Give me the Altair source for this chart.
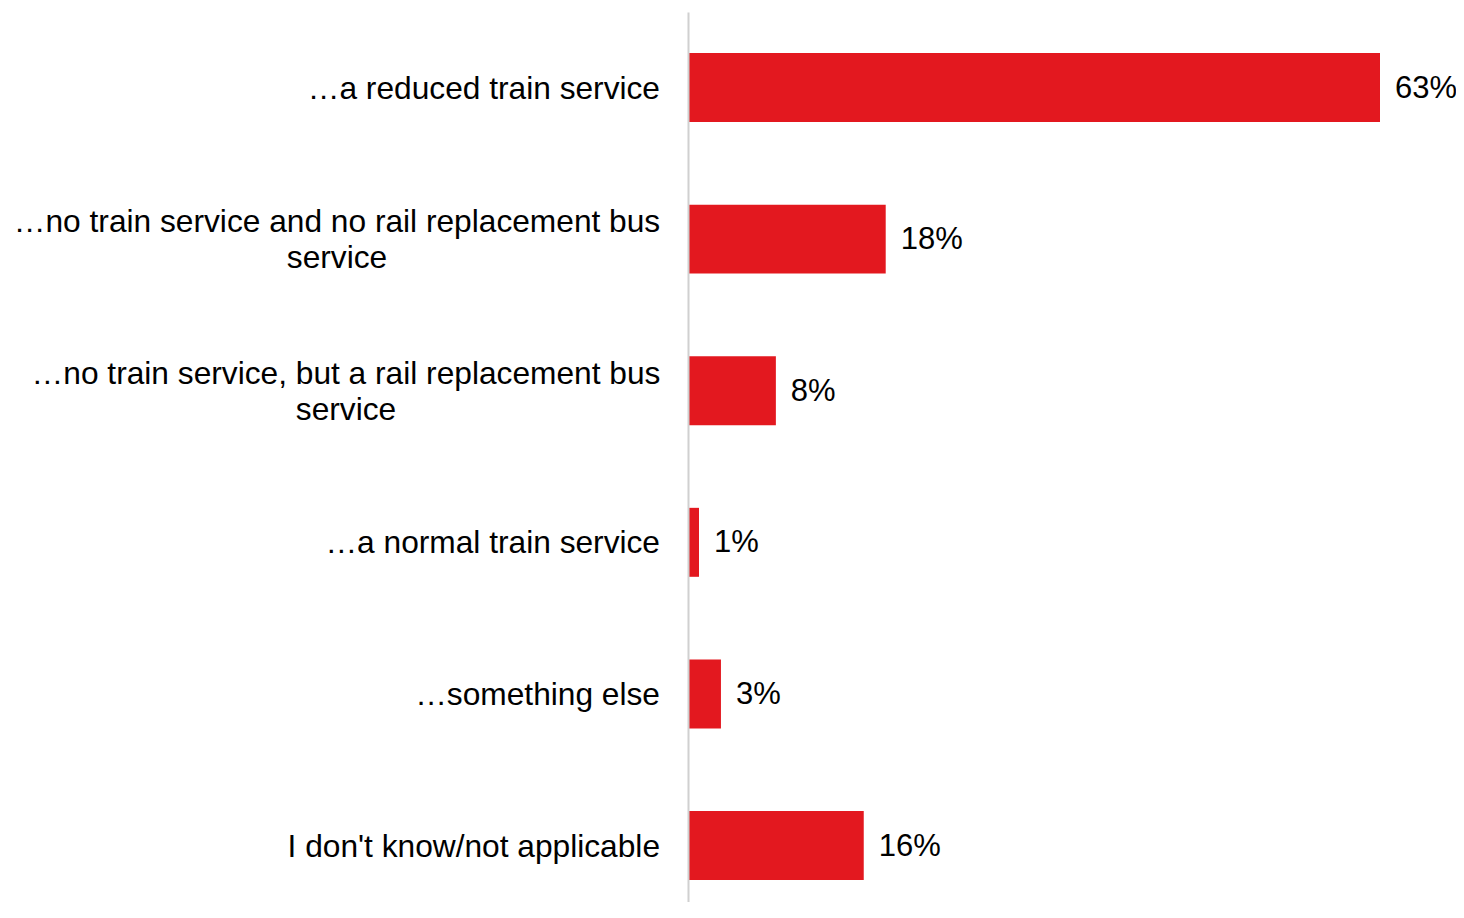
import altair as alt
import pandas as pd

categories = [
    "…a reduced train service",
    "…no train service and no rail replacement bus\nservice",
    "…no train service, but a rail replacement bus\nservice",
    "…a normal train service",
    "…something else",
    "I don't know/not applicable",
]
values = [63, 18, 8, 1, 3, 16]

df = pd.DataFrame({"cat": categories, "value": values})
df["label"] = [f"{v}%" for v in values]

FONT = "Liberation Sans"
RED = "#E3181F"
order = categories

x_scale = alt.Scale(domain=[0, 63], nice=False, zero=True)

y_axis = alt.Axis(labels=False, ticks=False, title=None, domain=True, grid=False,
                  domainColor="#d0d0d0", domainWidth=2, zindex=1)
y_enc = alt.Y(
    "cat:N",
    sort=order,
    scale=alt.Scale(paddingInner=0.545, paddingOuter=0.208, align=0.651),
    axis=y_axis,
)
y_plain = alt.Y("cat:N", sort=order, axis=y_axis)

base = alt.Chart(df)

bars = base.mark_bar(color=RED).encode(
    x=alt.X("value:Q", scale=x_scale, axis=None),
    y=y_enc,
)

vals = base.mark_text(align="left", baseline="middle", dx=15, dy=1, font=FONT,
                      fontSize=31, color="#000000").encode(
    x=alt.X("value:Q", scale=x_scale, axis=None),
    y=y_plain,
    text="label:N",
)

single = base.transform_filter(
    "indexof(datum.cat, '\\n') < 0"
).mark_text(align="right", baseline="middle", dx=-28, dy=1, font=FONT,
            fontSize=31.7, color="#000000").encode(
    x=alt.datum(0, scale=x_scale, axis=None),
    y=y_plain,
    text="cat:N",
)

two1 = base.transform_filter(
    alt.datum.cat == categories[1]
).mark_text(align="center", baseline="middle", dx=-351, dy=-17, font=FONT,
            fontSize=31.7, lineBreak="\n", lineHeight=36, color="#000000").encode(
    x=alt.datum(0, scale=x_scale, axis=None),
    y=y_plain,
    text="cat:N",
)

two2 = base.transform_filter(
    alt.datum.cat == categories[2]
).mark_text(align="center", baseline="middle", dx=-342, dy=-17, font=FONT,
            fontSize=31.7, lineBreak="\n", lineHeight=36, color="#000000").encode(
    x=alt.datum(0, scale=x_scale, axis=None),
    y=y_plain,
    text="cat:N",
)

chart = alt.layer(bars, vals, single, two1, two2).properties(
    width=692,
    height=890,
    background="#ffffff",
    autosize=alt.AutoSizeParams(type="none"),
    padding={"left": 680, "top": 4, "right": 76, "bottom": 0},
).configure_view(strokeWidth=0, stroke=None).configure_axis(grid=False)

chart.save("out.html", embed_options={"renderer": "svg", "actions": False})
